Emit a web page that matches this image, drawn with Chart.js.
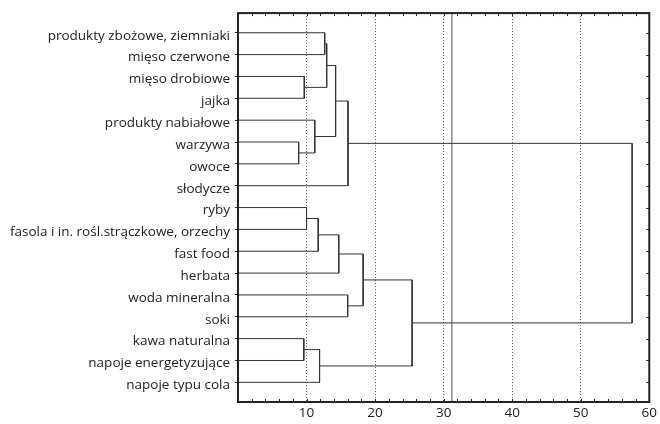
<!DOCTYPE html>
<html>
<head>
<meta charset="utf-8">
<script src="https://cdn.jsdelivr.net/npm/chart.js"></script>
<style>
  html, body { margin: 0; padding: 0; background: #fff; }
  #wrap { width: 660px; height: 424px; }
</style>
</head>
<body>
<div id="wrap"><canvas id="dendro"></canvas></div>
<script>
// leaves, top to bottom
const leaves = [
  'produkty zbożowe, ziemniaki', 'mięso czerwone', 'mięso drobiowe', 'jajka',
  'produkty nabiałowe', 'warzywa', 'owoce', 'słodycze', 'ryby',
  'fasola i in. rośl.strączkowe, orzechy', 'fast food', 'herbata',
  'woda mineralna', 'soki', 'kawa naturalna', 'napoje energetyzujące', 'napoje typu cola'
];
// merges: node 17 is the first merge, 18 the second, ...
const mergeA = [5, 14, 2, 8, 4, 20, 18, 0, 24, 25, 22, 12, 26, 27, 30, 29];
const mergeB = [6, 15, 3, 9, 17, 10, 16, 1, 19, 21, 11, 13, 7, 28, 23, 31];
const mergeHeight = [8.85, 9.6, 9.67, 10.0, 11.2, 11.7, 11.9, 12.65, 12.94, 14.24, 14.7, 16.0, 16.05, 18.26, 25.4, 57.5];
const cutLevel = 31.2;
const xTicks = [10, 20, 30, 40, 50, 60];
const xMinor = [2, 4, 6, 8, 12, 14, 16, 18, 22, 24, 26, 28, 32, 34, 36, 38, 42, 44, 46, 48, 52, 54, 56, 58];

const FONT = '"Open Sans", sans-serif';

// position of every node (leaf or cluster)
const nodeX = leaves.map(() => 0);
const nodeY = leaves.map((_, i) => i);
const datasets = [];
mergeA.forEach((a, i) => {
  const b = mergeB[i];
  const h = mergeHeight[i];
  datasets.push({
    data: [
      { x: nodeX[a], y: nodeY[a] },
      { x: h, y: nodeY[a] },
      { x: h, y: nodeY[b] },
      { x: nodeX[b], y: nodeY[b] }
    ],
    borderColor: '#333',
    borderWidth: 1,
    pointRadius: 0,
    tension: 0,
    fill: false
  });
  nodeX.push(h);
  nodeY.push((nodeY[a] + nodeY[b]) / 2);
});
datasets.push({
  data: [{ x: cutLevel, y: -1 }, { x: cutLevel, y: 17 }],
  borderColor: '#8a8a8a',
  borderWidth: 1.5,
  pointRadius: 0,
  fill: false
});

// box around plot + inward minor ticks
const framePlugin = {
  id: 'frame',
  afterDatasetsDraw(chart) {
    const { ctx, chartArea: a, scales } = chart;
    ctx.save();
    ctx.strokeStyle = '#222';
    ctx.lineWidth = 1;
    ctx.beginPath();
    xMinor.concat(xTicks).forEach(v => {
      const px = Math.round(scales.x.getPixelForValue(v)) + 0.5;
      ctx.moveTo(px, a.bottom); ctx.lineTo(px, a.bottom - 3);
      ctx.moveTo(px, a.top); ctx.lineTo(px, a.top + 3);
    });
    leaves.forEach((_, i) => {
      const py = Math.round(scales.y.getPixelForValue(i)) + 0.5;
      ctx.moveTo(a.right, py); ctx.lineTo(a.right - 3, py);
    });
    ctx.stroke();
    ctx.lineWidth = 2;
    ctx.strokeRect(a.left, a.top, a.right - a.left, a.bottom - a.top);
    ctx.restore();
  }
};

new Chart(document.getElementById('dendro'), {
  type: 'line',
  data: { datasets: datasets },
  options: {
    responsive: true,
    maintainAspectRatio: false,
    animation: false,
    layout: { padding: { top: 13, right: 8, left: 0, bottom: 0 } },
    plugins: { legend: { display: false }, tooltip: { enabled: false } },
    scales: {
      x: {
        type: 'linear',
        min: 0,
        max: 60,
        afterBuildTicks: (scale) => { scale.ticks = xTicks.map(v => ({ value: v })); },
        afterFit: (scale) => { scale.height = 22; },
        ticks: {
          padding: 3,
          color: '#222',
          font: { family: FONT, size: 13.5 },
          maxRotation: 0
        },
        grid: {
          drawTicks: false,
          color: (c) => (c.tick && c.tick.value > 0 && c.tick.value < 60) ? '#555' : 'rgba(0,0,0,0)',
          lineWidth: 1
        },
        border: { display: false, dash: [1, 2] }
      },
      y: {
        type: 'linear',
        reverse: true,
        min: -0.9,
        max: 16.9,
        afterBuildTicks: (scale) => { scale.ticks = leaves.map((_, i) => ({ value: i })); },
        afterFit: (scale) => { scale.width = 238; },
        ticks: {
          padding: 5,
          color: '#222',
          labelOffset: 3,
          font: { family: FONT, size: 13.5 },
          callback: (v) => leaves[v]
        },
        grid: { drawOnChartArea: false, drawTicks: true, tickLength: 3, color: '#222' },
        border: { display: false }
      }
    }
  },
  plugins: [framePlugin]
});
</script>
</body>
</html>
